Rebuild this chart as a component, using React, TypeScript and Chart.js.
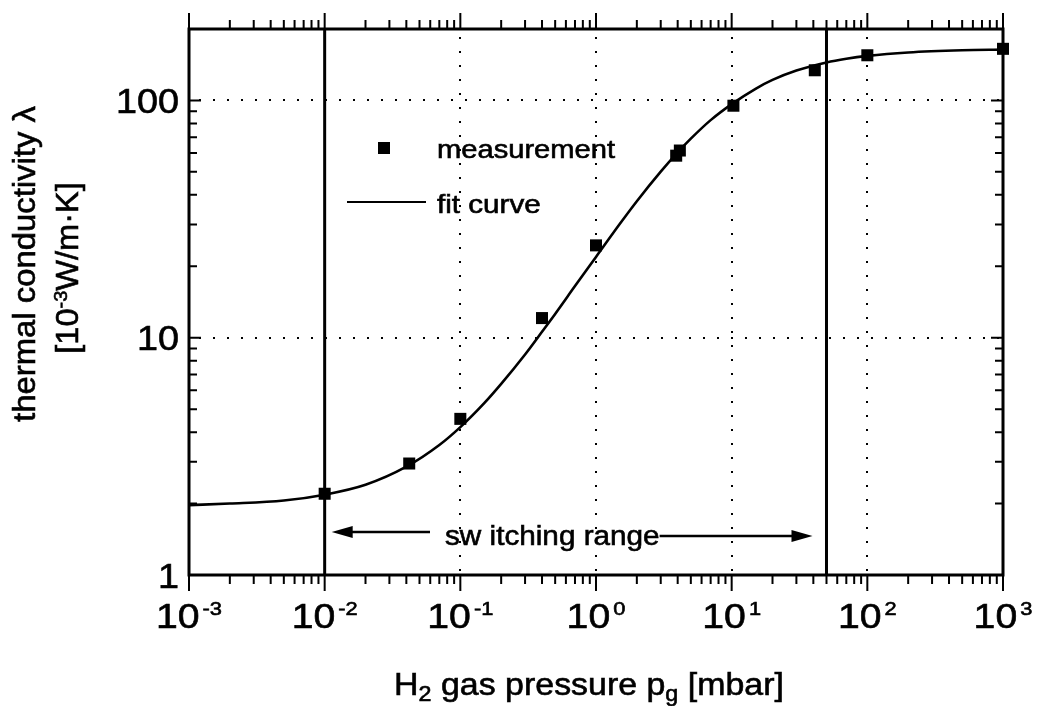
import React, { useEffect, useRef } from "react";
import { Chart, registerables } from "chart.js";

Chart.register(...registerables);

// ---- data ----
const MEAS_X = [0.01, 0.042, 0.1, 0.4, 1, 3.9, 4.15, 10.3, 41, 100, 1000];
const MEAS_Y = [2.2, 2.95, 4.55, 12.1, 24.5, 58.5, 61.5, 95, 134, 155, 165];

const FIT_X = [0.001, 0.002, 0.005, 0.01, 0.02, 0.04, 0.07, 0.1, 0.15, 0.2, 0.3, 0.4, 0.5, 0.7, 1, 1.5, 2, 3, 4, 5, 7, 10, 15, 20, 30, 50, 70, 100, 200, 500, 1000];
const FIT_Y = [1.97, 2.0, 2.06, 2.18, 2.4, 2.86, 3.53, 4.2, 5.3, 6.39, 8.5, 10.6, 12.6, 16.5, 21.9, 30.2, 37.6, 50.1, 60.4, 69.0, 82.6, 96.5, 112, 122, 133.6, 144.6, 149.9, 154.1, 159.3, 162.7, 163.8];

const SWITCH_BOUNDS = [0.01, 50];

const X_MIN = 0.001;
const X_MAX = 1000;
const Y_MIN = 1;
const Y_MAX = 200;

const X_DECADES = [-3, -2, -1, 0, 1, 2, 3];
const Y_TICKS = [1, 10, 100];
const Y_TICK_LABELS = ["1", "10", "100"];
const X_GRID = [0.01, 0.1, 1, 10, 100];
const Y_GRID = [10, 100];

const LEGEND_LABELS = ["measurement", "fit curve"];
const ANNOTATION_TEXT = "sw itching range";

const FONT = '"Liberation Sans", Arial, Helvetica, sans-serif';

type Part = { t: string; s: number; dy?: number; sx?: number; pad?: number };

function drawParts(
  ctx: CanvasRenderingContext2D,
  parts: Part[],
  x: number,
  y: number,
  sx: number,
  align: "left" | "center" | "right",
  rot = 0
) {
  ctx.save();
  ctx.translate(x, y);
  if (rot) ctx.rotate(rot);
  ctx.fillStyle = "#000";
  ctx.strokeStyle = "#000";
  ctx.lineWidth = 0.6;
  ctx.setLineDash([]);
  ctx.textAlign = "left";
  ctx.textBaseline = "alphabetic";
  const widths = parts.map((p) => {
    ctx.font = `${p.s}px ${FONT}`;
    return ctx.measureText(p.t).width * (p.sx ?? sx) + (p.pad ?? 0);
  });
  const total = widths.reduce((a, b) => a + b, 0);
  let u = align === "left" ? 0 : align === "center" ? -total / 2 : -total;
  parts.forEach((p, i) => {
    ctx.save();
    ctx.font = `${p.s}px ${FONT}`;
    ctx.translate(u + (p.pad ?? 0), p.dy ?? 0);
    ctx.scale(p.sx ?? sx, 1);
    ctx.fillText(p.t, 0, 0);
    ctx.strokeText(p.t, 0, 0);
    ctx.restore();
    u += widths[i];
  });
  ctx.restore();
  return total;
}

function arrowHead(ctx: CanvasRenderingContext2D, tipX: number, y: number, dir: number) {
  ctx.beginPath();
  ctx.moveTo(tipX, y);
  ctx.lineTo(tipX - dir * 21, y - 6);
  ctx.lineTo(tipX - dir * 21, y + 6);
  ctx.closePath();
  ctx.fill();
}

const decorPlugin = {
  id: "decor",
  beforeDatasetsDraw(chart: any) {
    const { ctx, chartArea: a, scales } = chart;
    const xs = scales.x;
    const ys = scales.y;
    ctx.save();
    ctx.strokeStyle = "#000";
    ctx.lineWidth = 2;
    ctx.setLineDash([2, 12]);
    X_GRID.forEach((v) => {
      const px = Math.round(xs.getPixelForValue(v));
      ctx.beginPath();
      ctx.moveTo(px, a.top + 8);
      ctx.lineTo(px, a.bottom);
      ctx.stroke();
    });
    Y_GRID.forEach((v) => {
      const py = Math.round(ys.getPixelForValue(v));
      ctx.beginPath();
      ctx.moveTo(a.left + 10, py);
      ctx.lineTo(a.right, py);
      ctx.stroke();
    });
    ctx.restore();
  },
  afterDatasetsDraw(chart: any) {
    const { ctx, chartArea: a, scales } = chart;
    const xs = scales.x;
    const ys = scales.y;
    ctx.save();
    ctx.strokeStyle = "#000";
    ctx.fillStyle = "#000";

    // frame
    ctx.lineWidth = 3;
    ctx.strokeRect(a.left, a.top, a.right - a.left, a.bottom - a.top);

    // x ticks (outward, top and bottom)
    ctx.lineWidth = 2;
    X_DECADES.forEach((d) => {
      for (let k = 1; k <= 9; k++) {
        const v = k * Math.pow(10, d);
        if (v > X_MAX * 1.0001) continue;
        const px = xs.getPixelForValue(v);
        const len = k === 1 ? 16 : 9;
        ctx.beginPath();
        ctx.moveTo(px, a.bottom);
        ctx.lineTo(px, a.bottom + len);
        ctx.moveTo(px, a.top);
        ctx.lineTo(px, a.top - len);
        ctx.stroke();
      }
    });
    // y ticks (inward, left and right)
    [0, 1, 2].forEach((d) => {
      for (let k = 1; k <= 9; k++) {
        const v = k * Math.pow(10, d);
        if (v >= Y_MAX) continue;
        const py = ys.getPixelForValue(v);
        const len = k === 1 ? 12 : 8;
        ctx.beginPath();
        ctx.moveTo(a.left, py);
        ctx.lineTo(a.left + len, py);
        ctx.moveTo(a.right, py);
        ctx.lineTo(a.right - len, py);
        ctx.stroke();
      }
    });

    // x tick labels 10^n
    X_DECADES.forEach((d) => {
      const px = xs.getPixelForValue(Math.pow(10, d));
      drawParts(
        ctx,
        [
          { t: "10", s: 35, sx: 1.12 },
          { t: String(d), s: 19, dy: -13, sx: 1.15, pad: 3 },
        ],
        px,
        a.bottom + 53,
        1,
        "center"
      );
    });
    // y tick labels
    Y_TICKS.forEach((v, i) => {
      const py = ys.getPixelForValue(v);
      drawParts(ctx, [{ t: Y_TICK_LABELS[i], s: 35 }], a.left - 10, py + 12.5, 1.08, "right");
    });

    // x title
    drawParts(
      ctx,
      [
        { t: "H", s: 32 },
        { t: "2", s: 22, dy: 6 },
        { t: " gas pressure p", s: 32 },
        { t: "g", s: 22, dy: 6 },
        { t: " [mbar]", s: 32 },
      ],
      589,
      695,
      1.06,
      "center"
    );
    // y title (two rotated lines)
    drawParts(ctx, [{ t: "thermal conductivity λ", s: 31 }], 35, 264, 1.06, "center", -Math.PI / 2);
    drawParts(
      ctx,
      [
        { t: "[10", s: 31 },
        { t: "-3", s: 19, dy: -11 },
        { t: "W/m·K]", s: 31 },
      ],
      78,
      268,
      1.05,
      "center",
      -Math.PI / 2
    );

    // legend
    ctx.fillRect(384 - 6, 148 - 6, 12, 12);
    drawParts(ctx, [{ t: LEGEND_LABELS[0], s: 26 }], 437, 158, 1.12, "left");
    ctx.lineWidth = 2.2;
    ctx.beginPath();
    ctx.moveTo(347, 202);
    ctx.lineTo(426, 202);
    ctx.stroke();
    drawParts(ctx, [{ t: LEGEND_LABELS[1], s: 26 }], 437, 213, 1.14, "left");

    // switching range annotation
    const leftTip = xs.getPixelForValue(SWITCH_BOUNDS[0]) + 7;
    const rightTip = xs.getPixelForValue(SWITCH_BOUNDS[1]) - 14;
    const textX = 445;
    const w = drawParts(ctx, [{ t: ANNOTATION_TEXT, s: 27 }], textX, 545, 1.1, "left");
    ctx.lineWidth = 2.5;
    ctx.beginPath();
    ctx.moveTo(textX - 15, 532);
    ctx.lineTo(leftTip + 10, 532);
    ctx.stroke();
    arrowHead(ctx, leftTip, 532, -1);
    ctx.beginPath();
    ctx.moveTo(textX + w, 536);
    ctx.lineTo(rightTip - 10, 536);
    ctx.stroke();
    arrowHead(ctx, rightTip, 536, 1);

    ctx.restore();
  },
};

export default function App() {
  const ref = useRef<HTMLCanvasElement | null>(null);
  useEffect(() => {
    if (!ref.current) return;
    const chart = new Chart(ref.current, {
      type: "scatter",
      data: {
        datasets: [
          {
            label: "measurement",
            data: MEAS_X.map((x, i) => ({ x, y: MEAS_Y[i] })),
            pointStyle: "rect",
            pointRadius: 8.5,
            pointBackgroundColor: "#000",
            pointBorderWidth: 0,
            showLine: false,
            clip: false,
          } as any,
          {
            label: "fit curve",
            data: FIT_X.map((x, i) => ({ x, y: FIT_Y[i] })),
            showLine: true,
            borderColor: "#000",
            borderWidth: 2.6,
            pointRadius: 0,
            cubicInterpolationMode: "monotone",
          } as any,
          ...SWITCH_BOUNDS.map(
            (b) =>
              ({
                label: "bound",
                data: [
                  { x: b, y: Y_MIN },
                  { x: b, y: Y_MAX },
                ],
                showLine: true,
                borderColor: "#000",
                borderWidth: 3,
                pointRadius: 0,
              } as any)
          ),
        ],
      },
      options: {
        responsive: false,
        animation: false,
        devicePixelRatio: 1,
        events: [],
        layout: { padding: { left: 189, right: 36, top: 29, bottom: 131 } },
        scales: {
          x: { type: "logarithmic", min: X_MIN, max: X_MAX, display: false },
          y: { type: "logarithmic", min: Y_MIN, max: Y_MAX, display: false },
        },
        plugins: {
          legend: { display: false },
          tooltip: { enabled: false },
        },
      },
      plugins: [decorPlugin],
    });
    return () => chart.destroy();
  }, []);
  return (
    <div style={{ position: "absolute", left: 0, top: 0, width: 1039, height: 706, background: "#fff" }}>
      <canvas ref={ref} width={1039} height={706} style={{ display: "block" }} />
    </div>
  );
}
